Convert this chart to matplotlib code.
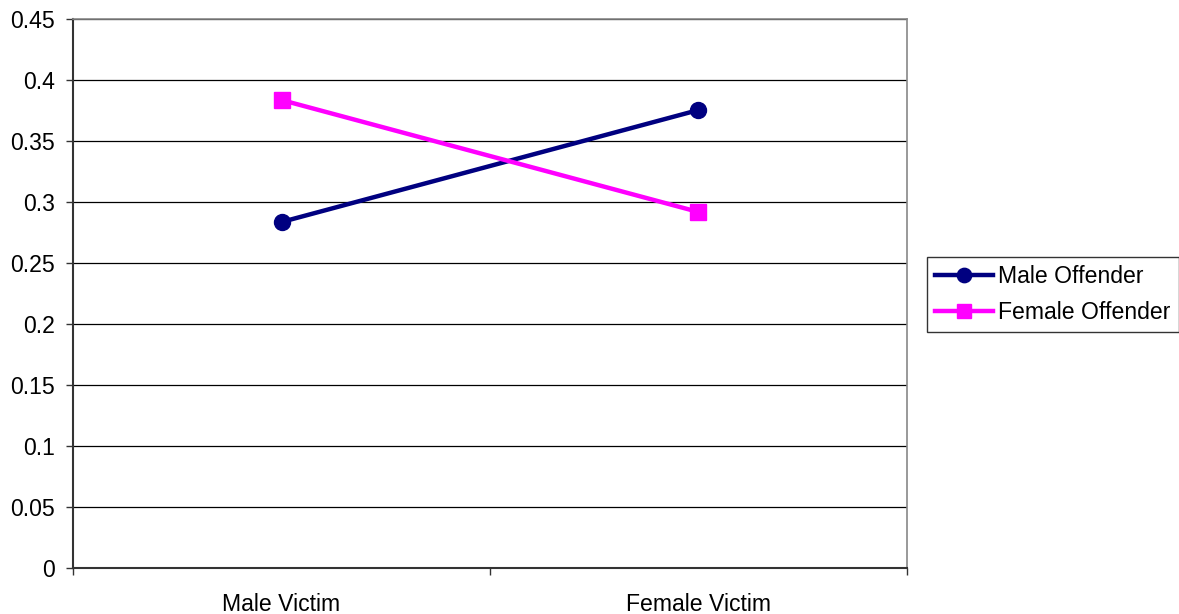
import matplotlib
matplotlib.use("Agg")
import matplotlib.pyplot as plt
from matplotlib.ticker import FixedLocator, NullFormatter

plt.rcParams['font.family'] = ['Liberation Sans', 'DejaVu Sans']

categories = ["Male Victim", "Female Victim"]
male_offender = [0.2836, 0.3754]
female_offender = [0.3836, 0.2918]
y_ticks = [0, 0.05, 0.1, 0.15, 0.2, 0.25, 0.3, 0.35, 0.4, 0.45]
y_labels = ["0", "0.05", "0.1", "0.15", "0.2", "0.25", "0.3", "0.35", "0.4", "0.45"]

fs = 16.6
fig = plt.figure(figsize=(11.79, 6.14), dpi=100)
ax = fig.add_axes([73 / 1179, (614 - 568) / 614, (907 - 73) / 1179, (568 - 19) / 614])

x = [i + 0.5 for i in range(len(categories))]
ax.plot(x, male_offender, color="#000080", lw=3.2, marker="o", ms=11.5,
        label="Male Offender", zorder=3, clip_on=False)
ax.plot(x, female_offender, color="#FF00FF", lw=3.2, marker="s", ms=11,
        label="Female Offender", zorder=3, clip_on=False)

ax.set_xlim(0, len(categories))
ax.set_ylim(0, 0.45)
ax.set_yticks(y_ticks)
ax.set_yticklabels(y_labels, fontsize=fs)
ax.yaxis.grid(True, color="#000000", lw=0.9)
ax.set_axisbelow(True)

# category boundaries carry the tick marks, labels sit between them
ax.xaxis.set_major_locator(FixedLocator(range(len(categories) + 1)))
ax.xaxis.set_major_formatter(NullFormatter())
ax.xaxis.set_minor_locator(FixedLocator(x))
ax.set_xticklabels(categories, minor=True, fontsize=fs)
ax.tick_params(axis="x", which="minor", length=0, pad=18)
ax.tick_params(axis="x", which="major", length=5, width=1, color="#333333")
ax.tick_params(axis="y", length=5, width=1, color="#333333", pad=8)

for side in ("left", "bottom"):
    ax.spines[side].set_color("#333333")
    ax.spines[side].set_linewidth(1.5)
for side in ("top", "right"):
    ax.spines[side].set_color("#888888")
    ax.spines[side].set_linewidth(1.2)

leg = fig.legend(loc="upper left", bbox_to_anchor=(927 / 1179, (614 - 257) / 614),
                 fontsize=fs, frameon=True, fancybox=False, borderpad=0.35,
                 handlelength=2.5, handletextpad=0.25, labelspacing=0.57,
                 borderaxespad=0, markerscale=0.9)
leg.get_frame().set_edgecolor("#000000")
leg.get_frame().set_linewidth(1.0)

fig.savefig("out.png", dpi=100)
